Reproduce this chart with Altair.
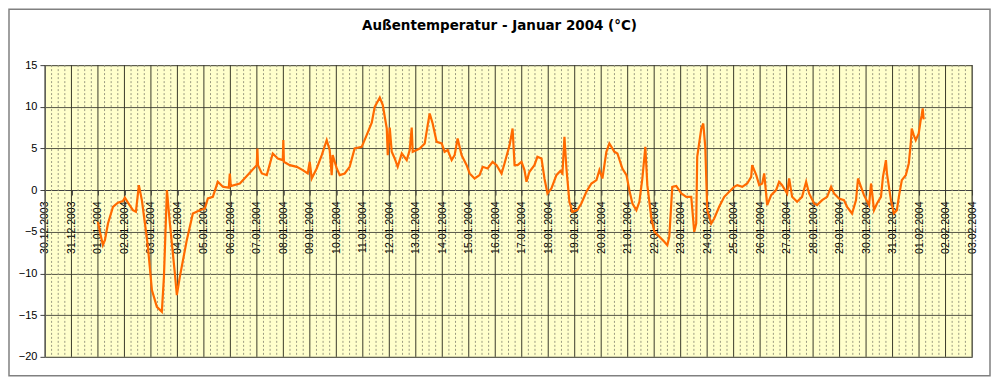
import altair as alt
import pandas as pd

# hours since 01.01.2004 00:00 and outside temperature (°C)
hours = [0, 1.8, 4.5, 6.3, 9.1, 13.6, 18.1, 22.6, 24.4, 27.2, 31.7, 34.4, 37.1, 39.8, 42.6, 45.3,
         48.9, 53.4, 57.9, 59.8, 62.5, 65.2, 69.7, 71.5, 74.2, 80.5, 86.0, 92.3, 96.9, 99.6,
         104.1, 108.6, 113.2, 118.6, 119.5, 120.4, 128.6, 137.6, 143.9, 144.5, 145.0, 148.5,
         153.0, 158.4, 163.0, 167.5, 168.0, 168.5, 173.8, 180.2, 185.6, 190.1, 191.9, 193.7,
         198.2, 202.8, 207.3, 210.0, 211.8, 212.7, 216.4, 219.1, 223.6, 228.1, 232.6, 239.0,
         243.5, 248.1, 250.8, 255.4, 258.1, 261.7, 262.6, 264.4, 266.2, 268.9, 271.6, 275.3,
         279.8, 282.5, 284.3, 285.2, 291.6, 296.1, 298.8, 300.6, 303.3, 306.9, 311.5, 314.1,
         316.9, 320.5, 323.2, 325.9, 329.5, 334.1, 336.8, 341.3, 345.8, 348.6, 353.1, 357.6,
         361.2, 365.7, 368.4, 373.0, 375.7, 377.5, 380.2, 383.8, 386.5, 388.3, 391.0, 395.5,
         398.2, 401.9, 404.6, 407.3, 410.9, 415.4, 419.0, 420.9, 422.7, 424.5, 427.2, 429.9,
         434.4, 438.0, 442.6, 447.1, 451.7, 454.4, 457.1, 460.7, 463.4, 468.0, 470.7, 475.2,
         478.9, 481.5, 484.3, 487.9, 490.6, 493.3, 496.0, 497.8, 501.5, 504.2, 513.2, 515.9,
         517.7, 520.4, 524.0, 528.6, 533.1, 537.6, 540.3, 542.1, 543.0, 546.7, 548.5, 550.3,
         552.1, 555.7, 558.4, 562.9, 567.5, 572.0, 576.5, 579.3, 583.8, 588.3, 591.9, 592.8,
         596.5, 599.2, 601.9, 603.7, 606.4, 610.0, 614.5, 617.2, 619.9, 624.5, 626.3, 629.0,
         633.5, 638.0, 641.7, 644.4, 648.9, 651.6, 656.2, 660.7, 664.3, 667.0, 671.5, 676.0,
         678.8, 683.3, 686.9, 688.7, 691.4, 694.1, 698.7, 700.5, 703.2, 705.9, 709.5, 711.3,
         714.0, 714.9, 718.5, 721.2, 723.9, 725.7, 728.4, 732.0, 734.7, 736.5, 737.4, 739.2,
         741.0, 743.7, 745.5, 746.4, 747.3, 748.2]
temps = [-3.8, -5.0, -6.6, -6.0, -4.0, -2.0, -1.5, -1.3, -0.9, -1.5, -2.4, -2.6, 0.6, -1.2, -4.0, -6.8,
         -12.0, -14.0, -14.6, -10.4, 0.0, -4.0, -10.0, -12.6, -10.4, -6.0, -2.8, -2.4, -2.2, -1.0,
         -0.8, 1.0, 0.4, 0.3, 2.0, 0.5, 0.8, 2.1, 3.0, 5.0, 3.0, 2.0,
         1.8, 4.4, 3.8, 3.6, 6.0, 3.4, 3.0, 2.8, 2.4, 2.0, 3.4, 1.4,
         2.6, 4.2, 6.0, 4.8, 1.8, 4.2, 2.6, 1.8, 2.0, 2.8, 5.0, 5.2,
         6.6, 8.1, 10.0, 11.1, 10.2, 7.4, 4.2, 7.5, 4.6, 3.8, 2.8, 4.4,
         3.6, 4.8, 7.5, 4.6, 5.0, 5.6, 7.8, 9.2, 8.0, 5.8, 5.6, 4.6,
         4.8, 3.6, 4.2, 6.2, 4.2, 3.0, 2.0, 1.4, 1.8, 2.8, 2.6, 3.4,
         3.0, 2.0, 3.2, 5.4, 7.4, 3.0, 3.0, 3.4, 2.4, 1.0, 2.2, 3.0,
         4.0, 3.8, 1.4, -0.4, 0.2, 1.8, 2.3, 2.0, 6.4, 2.6, -1.4, -2.6,
         -2.4, -1.6, -0.2, 0.8, 1.2, 2.4, 1.4, 4.6, 5.6, 4.6, 4.4, 2.6,
         1.8, 0.0, -1.6, -2.4, -1.4, 1.4, 5.2, 0.6, -3.4, -5.0, -6.2, -6.6,
         -5.6, 0.4, 0.5, -0.4, -0.8, -0.8, -5.0, -4.0, 4.0, 7.4, 8.0, 5.2,
         -2.4, -4.0, -3.4, -2.0, -0.8, -0.2, 0.4, 0.6, 0.4, 0.8, 1.6, 3.0,
         1.8, 0.6, 0.8, 2.0, -1.8, -0.6, 0.0, 1.0, 0.6, -0.4, 1.4, -0.8,
         -1.4, -0.8, 1.0, -0.4, -1.6, -1.8, -1.2, -0.8, 0.4, -0.4, -1.0, -1.2,
         -2.0, -2.8, -1.2, 1.4, 0.4, -0.6, -1.8, 0.8, -2.4, -1.6, -0.8, 1.6,
         3.6, 2.0, -1.2, -2.8, -2.4, -0.8, 1.2, 1.8, 3.2, 5.6, 7.4, 6.6,
         6.0, 6.8, 8.4, 9.0, 9.8, 8.5]

# tick labels (one per day)
day_ticks = pd.date_range("2003-12-30", "2004-02-03", freq="D")
y_ticks = [-20, -15, -10, -5, 0, 5, 10, 15]

base = pd.Timestamp("2004-01-01")
df = pd.DataFrame({"time": base + pd.to_timedelta(hours, unit="h"), "temp": temps})

minor = pd.date_range("2003-12-30", "2004-02-03", freq="6h")
minor = minor[minor.hour != 0]
df_minor = pd.DataFrame({"time": minor})
df_major = pd.DataFrame({"time": day_ticks})

FONT = "Liberation Sans"
x_scale = alt.Scale(domain=[alt.DateTime(year=2003, month=12, date=30),
                            alt.DateTime(year=2004, month=2, date=3)])
y_scale = alt.Scale(domain=[-20, 15], nice=False, zero=False)

tick_vals = [alt.DateTime(year=int(d.year), month=int(d.month), date=int(d.day)) for d in day_ticks]

x_axis = alt.Axis(values=tick_vals, format="%d.%m.%Y", labelAngle=270, offset=-167,
                  grid=False, domainColor="#404040", tickColor="#404040", tickSize=5,
                  labelFont=FONT, labelFontSize=10.5, labelColor="#000000",
                  labelPadding=6, labelOverlap=False, labelFlush=False, title=None)

minor_rules = alt.Chart(df_minor).mark_rule(color="#9a9a80", strokeDash=[2, 2], strokeWidth=1).encode(
    x=alt.X("time:T", scale=x_scale, axis=x_axis)
)
major_rules = alt.Chart(df_major).mark_rule(color="#3a3a2a", strokeWidth=1).encode(
    x=alt.X("time:T", scale=x_scale, axis=x_axis)
)

line = alt.Chart(df).mark_line(color="#FF6A00", strokeWidth=2.2).encode(
    x=alt.X("time:T", scale=x_scale, axis=x_axis),
    y=alt.Y("temp:Q", scale=y_scale,
            axis=alt.Axis(values=y_ticks, grid=True, gridColor="#555545", gridOpacity=1,
                          domainColor="#808080", tickColor="#404040", tickSize=5,
                          labelFont=FONT, labelFontSize=11, labelColor="#000000",
                          labelPadding=3, title=None)),
)

frame = alt.Chart(pd.DataFrame({"a": [0]})).mark_rect(
    fillOpacity=0, stroke="#808080", strokeWidth=1.5
).encode(x=alt.value(-36), x2=alt.value(946), y=alt.value(-56), y2=alt.value(311))

chart = alt.layer(minor_rules, major_rules, line, frame).properties(
    width=928, height=292,
    autosize="none",
    padding={"left": 37, "top": 57, "right": 20, "bottom": 20},
    title=alt.TitleParams("Außentemperatur - Januar 2004 (°C)", font="DejaVu Sans", fontSize=13.5,
                          fontWeight="bold", color="#000000", anchor="middle", dx=-9,
                          offset=0, dy=24),
).configure_view(fill="#FFFFCC", stroke="#909090")

chart.save("out.html", embed_options={"renderer": "svg", "actions": False})
